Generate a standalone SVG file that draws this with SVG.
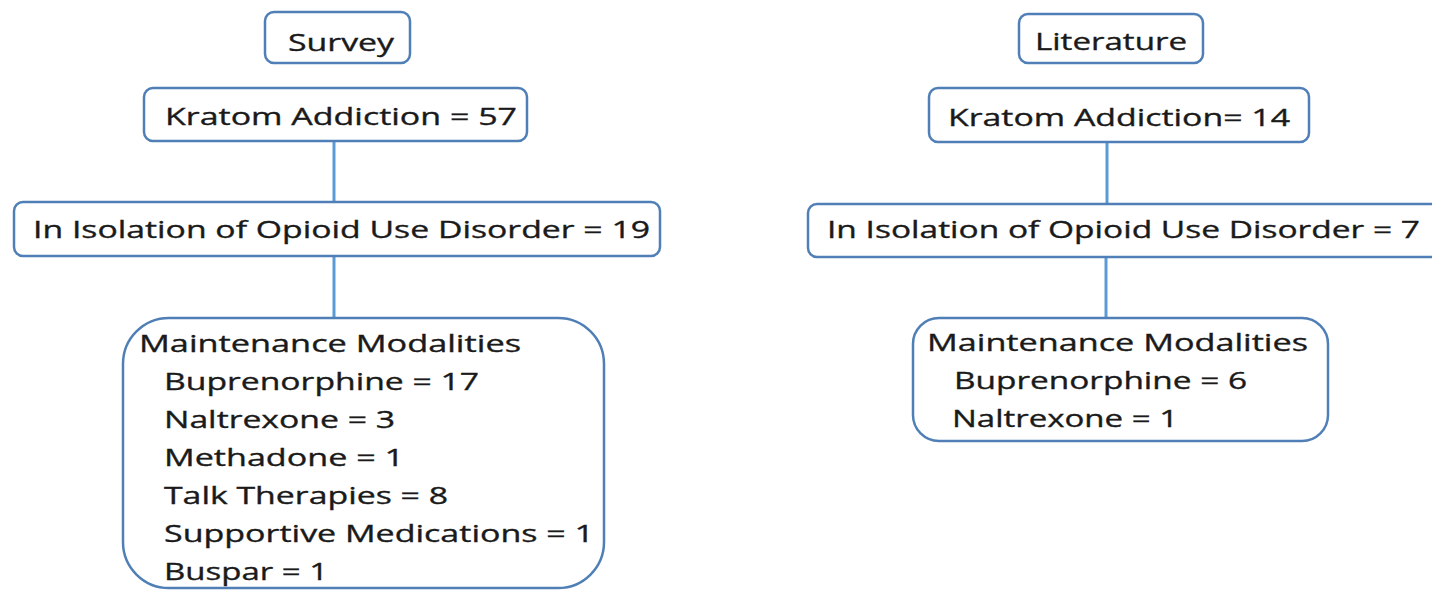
<svg xmlns="http://www.w3.org/2000/svg" width="1432" height="591" viewBox="0 0 1432 591">
<style>
.box{fill:#ffffff;stroke:#4f7fb6;stroke-width:2.5}
.lbl{font-family:"Open Sans","Liberation Sans",sans-serif;font-size:24px;fill:#1a1a1a;stroke:#1a1a1a;stroke-width:0.35}
.conn line{stroke:#5b9bd5;stroke-width:3}
</style>
<rect width="1432" height="591" fill="#ffffff"/>
<g id="connectors" class="conn">
<line x1="334" y1="141" x2="334" y2="202"/>
<line x1="334" y1="256" x2="334" y2="318"/>
<line x1="1107" y1="142" x2="1107" y2="204"/>
<line x1="1106" y1="257" x2="1106" y2="318"/>
</g>
<g id="survey">
<rect class="box" x="265" y="12" width="145" height="51" rx="9"/>
<text class="lbl" x="288" y="51" textLength="106" lengthAdjust="spacingAndGlyphs">Survey</text>
</g>
<g id="survey-kratom">
<rect class="box" x="144" y="88" width="383" height="53" rx="9"/>
<text class="lbl" x="165" y="125" textLength="352" lengthAdjust="spacingAndGlyphs">Kratom Addiction = 57</text>
</g>
<g id="survey-isolation">
<rect class="box" x="14" y="202" width="646" height="54" rx="9"/>
<text class="lbl" x="33" y="238" textLength="617" lengthAdjust="spacingAndGlyphs">In Isolation of Opioid Use Disorder = 19</text>
</g>
<g id="survey-maintenance">
<rect class="box" x="123" y="318" width="481" height="270" rx="46"/>
<text class="lbl" x="139" y="352" textLength="382" lengthAdjust="spacingAndGlyphs">Maintenance Modalities</text>
<text class="lbl" x="164" y="390" textLength="315" lengthAdjust="spacingAndGlyphs">Buprenorphine = 17</text>
<text class="lbl" x="164" y="428" textLength="231" lengthAdjust="spacingAndGlyphs">Naltrexone = 3</text>
<text class="lbl" x="164" y="466" textLength="240" lengthAdjust="spacingAndGlyphs">Methadone = 1</text>
<text class="lbl" x="164" y="504" textLength="284" lengthAdjust="spacingAndGlyphs">Talk Therapies = 8</text>
<text class="lbl" x="164" y="542" textLength="430" lengthAdjust="spacingAndGlyphs">Supportive Medications = 1</text>
<text class="lbl" x="164" y="580" textLength="164" lengthAdjust="spacingAndGlyphs">Buspar = 1</text>
</g>
<g id="literature">
<rect class="box" x="1019" y="14" width="184" height="49" rx="9"/>
<text class="lbl" x="1035" y="50" textLength="152" lengthAdjust="spacingAndGlyphs">Literature</text>
</g>
<g id="literature-kratom">
<rect class="box" x="929" y="88" width="380" height="54" rx="9"/>
<text class="lbl" x="948" y="126" textLength="342" lengthAdjust="spacingAndGlyphs">Kratom Addiction= 14</text>
</g>
<g id="literature-isolation">
<rect class="box" x="808" y="204" width="640" height="53" rx="9"/>
<text class="lbl" x="827" y="238" textLength="593" lengthAdjust="spacingAndGlyphs">In Isolation of Opioid Use Disorder = 7</text>
</g>
<g id="literature-maintenance">
<rect class="box" x="913" y="318" width="415" height="123" rx="26"/>
<text class="lbl" x="927" y="351" textLength="381" lengthAdjust="spacingAndGlyphs">Maintenance Modalities</text>
<text class="lbl" x="954" y="389" textLength="293" lengthAdjust="spacingAndGlyphs">Buprenorphine = 6</text>
<text class="lbl" x="952" y="427" textLength="226" lengthAdjust="spacingAndGlyphs">Naltrexone = 1</text>
</g>
</svg>
